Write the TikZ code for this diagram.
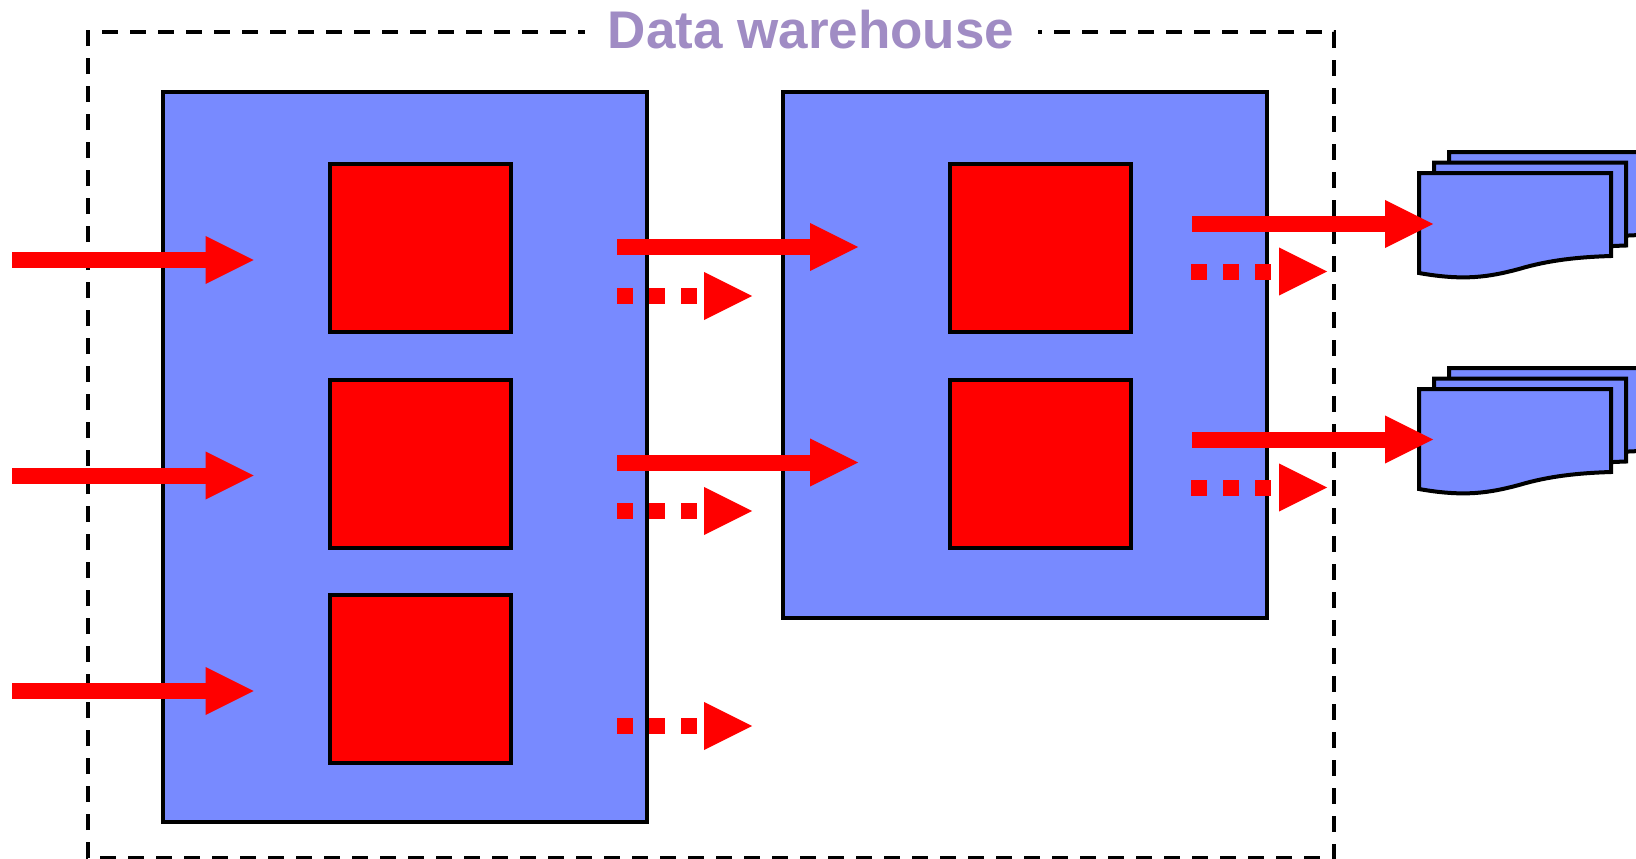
\documentclass[tikz,border=0pt]{standalone}
\usepackage{fontspec}
\setmainfont{Liberation Sans}
\usetikzlibrary{arrows.meta}
\definecolor{boxblue}{RGB}{120,138,255}
\definecolor{titlepurple}{RGB}{160,140,196}

\begin{document}
\begin{tikzpicture}[x=0.5pt,y=-0.5pt,
    stage/.style = {draw, fill=boxblue, line width=2pt, minimum width=242pt},
    table/.style = {draw, fill=red, line width=2pt, minimum width=90.5pt, minimum height=84pt},
    feed/.style = {-{Triangle[length=24.75pt,width=22pt]}, red, line width=8pt},
    weak/.style = {feed, dash pattern=on 8pt off 8pt},
    docpage/.pic = {
        \draw[fill=boxblue, line width=2pt] (0,100) -- (0,0) -- (192,0) -- (192,83)
            .. controls (160,84) and (130,87) .. (100,96)
            .. controls (70,104) and (45,108) .. (0,100) -- cycle;
    }]
    \useasboundingbox (0,0) rectangle (1636,858);
    \draw[line width=2pt, dash pattern=on 8pt off 6pt] (102,32) -- (1334,32) -- (1334,858) -- (88,858) -- (88,32) -- (102,32);
    \node at (811,48) [anchor=base, fill=white, inner sep=0pt, minimum width=226.5pt, text=titlepurple, font=\fontsize{26.5}{30}\selectfont\bfseries] (title) {Data warehouse};
    \node at (405.25,457) [stage,minimum height=365pt] (left) {};
    \node at (1025,355) [stage,minimum height=263pt] (right) {};
    \node at (420.5,248) [table] (t1) {};
    \node at (420.5,463.5) [table] (t2) {};
    \node at (420.5,679) [table] (t3) {};
    \node at (1040.5,248) [table] (t4) {};
    \node at (1040.5,463.5) [table] (t5) {};
    \pic at (1449,152) {docpage};
    \pic at (1434,162.5) {docpage};
    \pic at (1419,173) {docpage};
    \pic at (1449,368) {docpage};
    \pic at (1434,378.5) {docpage};
    \pic at (1419,389) {docpage};
    % free ends of the arrows
    \coordinate (a1) at (12,260);
    \coordinate (b1) at (255,260);
    \coordinate (a2) at (12,475.5);
    \coordinate (b2) at (255,475.5);
    \coordinate (a3) at (12,691);
    \coordinate (b3) at (255,691);
    \coordinate (c1) at (617,247);
    \coordinate (d1) at (859.5,247);
    \coordinate (c2) at (617,462.5);
    \coordinate (d2) at (859.5,462.5);
    \coordinate (e1) at (617,296);
    \coordinate (f1) at (753.5,296);
    \coordinate (e2) at (617,511);
    \coordinate (f2) at (753.5,511);
    \coordinate (e3) at (617,726);
    \coordinate (f3) at (753.5,726);
    \coordinate (g1) at (1192,224);
    \coordinate (h1) at (1434.5,224);
    \coordinate (g2) at (1192,439.5);
    \coordinate (h2) at (1434.5,439.5);
    \coordinate (i1) at (1191,271.5);
    \coordinate (j1) at (1328.5,271.5);
    \coordinate (i2) at (1191,487.5);
    \coordinate (j2) at (1328.5,487.5);
    \draw[feed] (a1) -- (b1);
    \draw[feed] (a2) -- (b2);
    \draw[feed] (a3) -- (b3);
    \draw[feed] (c1) -- (d1);
    \draw[feed] (c2) -- (d2);
    \draw[weak] (e1) -- (f1);
    \draw[weak] (e2) -- (f2);
    \draw[weak] (e3) -- (f3);
    \draw[feed] (g1) -- (h1);
    \draw[feed] (g2) -- (h2);
    \draw[weak] (i1) -- (j1);
    \draw[weak] (i2) -- (j2);
\end{tikzpicture}
\end{document}
